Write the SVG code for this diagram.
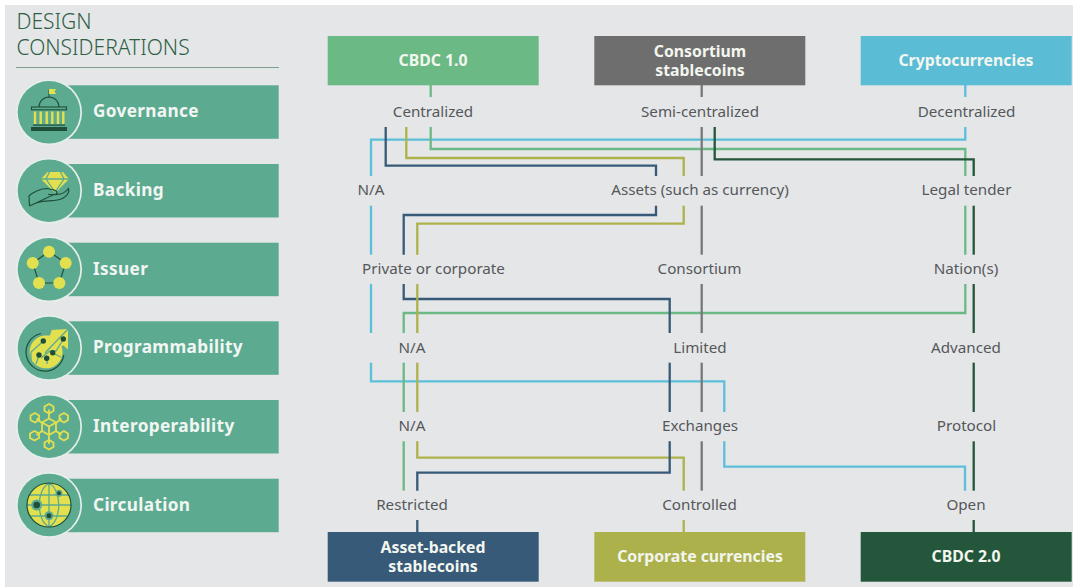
<svg xmlns="http://www.w3.org/2000/svg" width="1073" height="587" viewBox="0 0 1073 587">
<style>
text{font-family:"Noto Sans","Open Sans",sans-serif}
.t{font-size:21px;fill:#2f5f45;font-weight:300}
.l{font-size:15.2px;fill:#55585a;text-anchor:middle}
.b{font-size:15.8px;font-weight:700;fill:#f3f6ef;text-anchor:middle}
.h{font-size:17.2px;font-weight:700;fill:#f2f6f3;letter-spacing:.35px}
.bar{fill:#5cab91}
.ring{fill:#e6eeeb}
.disc{fill:#5cab91}
.c{fill:none;stroke-width:2.3;stroke-linejoin:miter}
.cy{stroke:#5bbfd9}.gr{stroke:#6bb985}.ol{stroke:#adb24a}.nv{stroke:#375a78}.gy{stroke:#777879}.dk{stroke:#23563a}
.y{fill:#e3e04f}
.ds{fill:none;stroke:#1f4f38;stroke-width:1.2}
.yl{fill:none;stroke:#e3e04f;stroke-width:1.8}
.gl{fill:none;stroke:#5cab91;stroke-width:1.3}
.dot{fill:#1f4f38}
</style>
<rect x="0" y="0" width="1073" height="587" fill="#ffffff"/>
<rect x="5" y="5" width="1068" height="582" fill="#e5e6e8"/>
<g id="title">
<text class="t"><tspan x="16.500" y="28.500">DESIGN</tspan><tspan x="16.500" y="54.500">CONSIDERATIONS</tspan></text>
<line x1="16" y1="67.500" x2="279" y2="67.500" stroke="#7d9e8c" stroke-width="1"/>
</g>
<g id="connectors">
<g class="c cy">
<path d="M371 176V139.700H965.300V127"/><path d="M371 205.700V254.700"/><path d="M371 284V333"/>
<path d="M371 362.700V381.300H724.300V412"/><path d="M724.300 441.300V466.700H965V490.700"/>
</g>
<g class="c gr">
<path d="M430.700 85V97"/><path d="M430.700 127V149H965.300V176"/><path d="M965.300 205.700V254.700"/>
<path d="M965.300 284V313H403.700V333"/><path d="M403.700 362.700V412"/><path d="M403.700 441.300V490.700"/>
</g>
<g class="c nv">
<path d="M385.700 127V165.700H656V176"/><path d="M656 205.700V215H403.700V254.700"/>
<path d="M403.700 284V299H669.700V333"/>
</g>
<g class="c ol">
<path d="M406.300 127V158H683.700V176"/><path d="M683.700 205.700V223.700H417.300V254.700"/>
<path d="M417.300 284V333"/><path d="M417.300 362.700V412"/><path d="M417.300 441.300V457.700H683.700V490.700"/><path d="M683.700 520V532"/>
</g>
<g class="c nv">
<path d="M669.700 362.700V412"/><path d="M669.700 441.300V472.700H417.300V490.700"/><path d="M417.300 520V532"/>
</g>
<g class="c gy">
<path d="M701.700 85V97"/><path d="M701.700 127V176"/><path d="M701.700 205.700V254.700"/><path d="M701.700 284V333"/><path d="M701.700 362.700V412"/><path d="M701.700 441.300V490.700"/>
</g>
<path class="c cy" d="M965.300 85V97"/>
<g class="c dk">
<path d="M714.700 127V159.300H973.700V176"/><path d="M973.700 205.700V254.700"/><path d="M973.700 284V333"/><path d="M973.700 362.700V412"/><path d="M973.700 441.300V490.700"/><path d="M973.700 520V532"/>
</g>
</g>
<g id="labels">
<text class="l" x="433" y="116.500">Centralized</text>
<text class="l" x="700" y="116.500">Semi-centralized</text>
<text class="l" x="966.500" y="116.500">Decentralized</text>
<text class="l" x="371" y="195">N/A</text>
<text class="l" x="700" y="195">Assets (such as currency)</text>
<text class="l" x="966.500" y="195">Legal tender</text>
<text class="l" x="433.500" y="274">Private or corporate</text>
<text class="l" x="699.500" y="274">Consortium</text>
<text class="l" x="966" y="274">Nation(s)</text>
<text class="l" x="412" y="352.500">N/A</text>
<text class="l" x="700" y="352.500">Limited</text>
<text class="l" x="966" y="352.500">Advanced</text>
<text class="l" x="412" y="431">N/A</text>
<text class="l" x="700" y="431">Exchanges</text>
<text class="l" x="966.500" y="431">Protocol</text>
<text class="l" x="412" y="510">Restricted</text>
<text class="l" x="699.500" y="510">Controlled</text>
<text class="l" x="966" y="510">Open</text>
</g>
<g id="node-cbdc1"><rect x="327.700" y="36" width="211" height="49.300" fill="#6bb985"/><text class="b" x="433" y="66">CBDC 1.0</text></g>
<g id="node-consortium"><rect x="594.300" y="36" width="211" height="49.300" fill="#6e6e6e"/><text class="b"><tspan x="700" y="56.500">Consortium</tspan><tspan x="700" y="75.500">stablecoins</tspan></text></g>
<g id="node-crypto"><rect x="860.700" y="36" width="211" height="49.300" fill="#5bbcd6"/><text class="b" x="966" y="66">Cryptocurrencies</text></g>
<g id="node-assetbacked"><rect x="327.700" y="532" width="211" height="49.700" fill="#375a78"/><text class="b"><tspan x="433" y="552.500">Asset-backed</tspan><tspan x="433" y="571.500">stablecoins</tspan></text></g>
<g id="node-corporate"><rect x="594.300" y="532" width="211" height="49.700" fill="#adb14c"/><text class="b" x="700" y="561.500">Corporate currencies</text></g>
<g id="node-cbdc2"><rect x="860.700" y="532" width="211" height="49.700" fill="#23563a"/><text class="b" x="966" y="561.500">CBDC 2.0</text></g>
<g id="governance">
<rect class="bar" x="60" y="85.300" width="218.700" height="53.500"/><circle class="ring" cx="49" cy="112.300" r="33"/><circle class="disc" cx="49" cy="112.300" r="31.300"/>
<path d="M49 98V89.500" stroke="#1f4f38" stroke-width="1"/><path class="y" d="M49 89H56L54.500 91.500L56 94H49Z"/>
<path class="ds" d="M39 107A10 10 0 0 1 59 107"/><rect x="31.500" y="107" width="35" height="2.800" fill="none" stroke="#1f4f38" stroke-width="1.100"/>
<path d="M35 111.500V124M40.700 111.500V124M46.700 111.500V124M52.300 111.500V124M58 111.500V124M63.300 111.500V124" stroke="#e3e04f" stroke-width="2.400" fill="none"/>
<rect x="33" y="124.500" width="32" height="1.200" class="dot"/><rect x="31" y="127" width="36" height="4" class="dot"/>
<text class="h" x="93" y="117">Governance</text>
</g>
<g id="backing">
<rect class="bar" x="60" y="164" width="218.700" height="53.500"/><circle class="ring" cx="49" cy="190.700" r="33"/><circle class="disc" cx="49" cy="190.700" r="31.300"/>
<path class="y" d="M47.500 172H63L69 179L55 193L41 179Z"/><path class="gl" d="M41 179H69M49.500 172L46 179L55 192L64 179L60.500 172"/>
<path class="ds" d="M29.500 206L29 196C33 192 41 188.500 47 188.500L54 190C58 191 58 194.500 54 194.500L48 194.500M54 194.500C60 195 65 193 68.500 188.500C70 194 64 200 54 200.500C45 201 39 201 29.500 206Z"/>
<text class="h" x="93" y="195.500">Backing</text>
</g>
<g id="issuer">
<rect class="bar" x="60" y="242.700" width="218.700" height="53.500"/><circle class="ring" cx="49" cy="269.300" r="33"/><circle class="disc" cx="49" cy="269.300" r="31.300"/>
<path class="ds" d="M49 251.700L65.700 263L59.300 283H39L32.700 263Z"/>
<circle class="y" cx="49" cy="251.700" r="6"/><circle class="y" cx="32.700" cy="263" r="6"/><circle class="y" cx="65.700" cy="263" r="6"/><circle class="y" cx="39" cy="283" r="6"/><circle class="y" cx="59.300" cy="283" r="6"/>
<text class="h" x="93" y="274.500">Issuer</text>
</g>
<g id="programmability">
<rect class="bar" x="60" y="321.300" width="218.700" height="53.500"/><circle class="ring" cx="49" cy="348" r="33"/><circle class="disc" cx="49" cy="348" r="31.300"/>
<path class="y" d="M51.700 330L68 329V349.500L63.500 345.500L61.500 346A16.500 16.500 0 1 1 44 335.500L50 335.500Z"/>
<path class="ds" d="M41 333.500A19 19 0 1 0 63.800 355"/>
<path class="gl" d="M68 329L45 353M43.500 341L31 352V361M63.500 339L56 351H50L41 358M52.500 353L61 357M47 358V364M39 355L36 364"/>
<circle class="dot" cx="43.300" cy="341" r="2.700"/><circle class="dot" cx="39" cy="355" r="2.700"/><circle class="dot" cx="46.700" cy="358.300" r="2.700"/><circle class="dot" cx="52.700" cy="352.700" r="2.700"/><circle class="dot" cx="63.300" cy="339" r="2.700"/>
<text class="h" x="93" y="353">Programmability</text>
</g>
<g id="interoperability">
<rect class="bar" x="60" y="400" width="218.700" height="53.500"/><circle class="ring" cx="49" cy="426.700" r="33"/><circle class="disc" cx="49" cy="426.700" r="31.300"/>
<path class="yl" d="M49 409.500V418M49 435.500V444M36.500 418.500L42 423M56 423L61.500 418.500M36.500 435L42 431M56 431L61.500 435"/>
<path class="yl" d="M49 418.500L56 422.500V431L49 435L42 431V422.500ZM42 422.500L49 426.500L56 422.500M49 426.500V435"/>
<path class="yl" d="M49 404L53.500 406.500V411L49 413.500L44.500 411V406.500Z"/>
<path class="yl" d="M49 440L53.500 442.500V447L49 449.500L44.500 447V442.500Z"/>
<path class="yl" d="M35 413L39 415.500V420L35 422.500L30.500 420V415.500Z"/>
<path class="yl" d="M64 413L68 415.500V420L64 422.500L59.500 420V415.500Z"/>
<path class="yl" d="M34.500 431L39 433.500V438L34.500 440.500L30 438V433.500Z"/>
<path class="yl" d="M64 431L68 433.500V438L64 440.500L59.500 438V433.500Z"/>
<text class="h" x="93" y="431.500">Interoperability</text>
</g>
<g id="circulation">
<rect class="bar" x="60" y="478.700" width="218.700" height="53.500"/><circle class="ring" cx="49" cy="505" r="33"/><circle class="disc" cx="49" cy="505" r="31.300"/>
<circle class="y" cx="49" cy="505" r="22"/>
<path class="gl" d="M49 483V527M29 495H69M27 505H71M30 516H68M49 483C36 490 36 520 49 527M49 483C62 490 62 520 49 527"/>
<circle cx="49" cy="505" r="22" fill="none" stroke="#1f4f38" stroke-width="1.200"/>
<circle cx="36.700" cy="505" r="5.500" fill="#5cab91"/><circle class="dot" cx="36.700" cy="505" r="3.300"/>
<circle cx="49" cy="515.700" r="4.500" fill="#5cab91"/><circle class="dot" cx="49" cy="515.700" r="2.500"/>
<circle cx="59" cy="493.300" r="3.500" fill="#5cab91"/><circle class="dot" cx="59" cy="493.300" r="2"/>
<text class="h" x="93" y="510.500">Circulation</text>
</g>
</svg>
